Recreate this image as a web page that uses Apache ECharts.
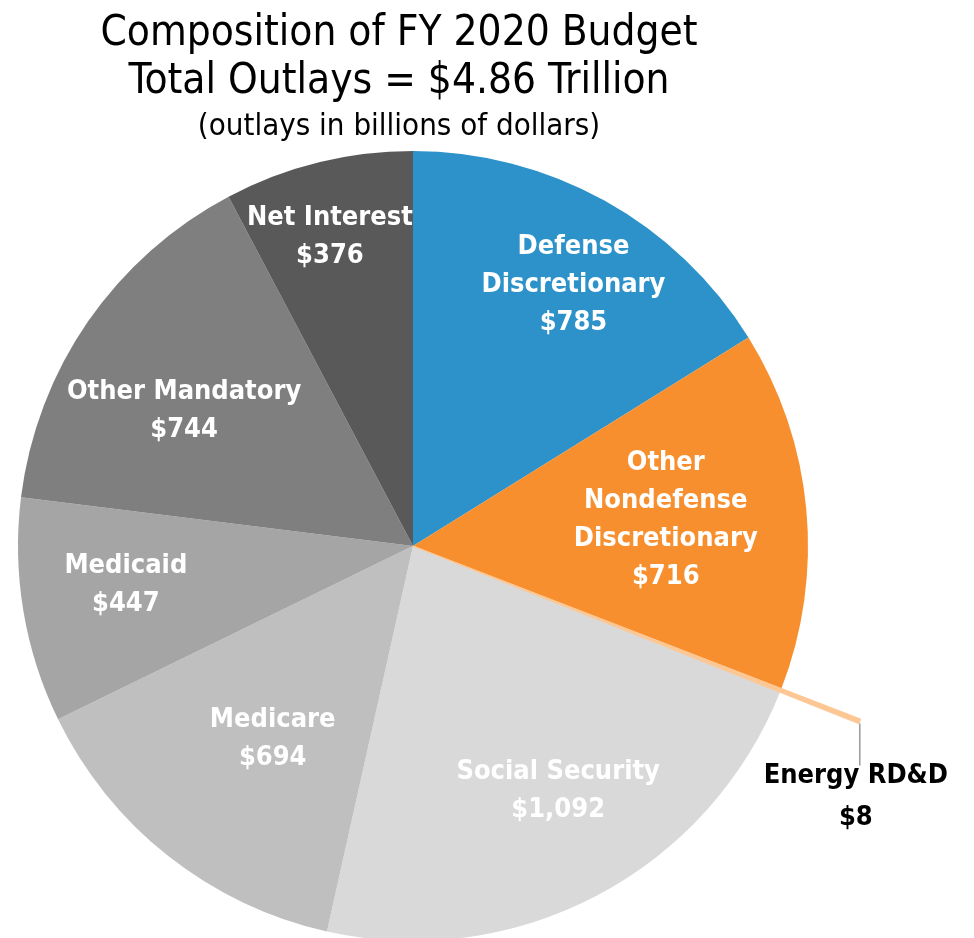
<!DOCTYPE html>
<html>
<head>
<meta charset="utf-8">
<script src="https://cdn.jsdelivr.net/npm/echarts@6/dist/echarts.min.js"></script>
<style>
  html, body { margin: 0; padding: 0; background: #ffffff; }
  #chart { width: 974px; height: 938px; }
</style>
</head>
<body>
<div id="chart"></div>
<script>
// FY 2020 outlays, billions of dollars, clockwise from 12 o'clock
const categories = [
  'Defense\nDiscretionary',
  'Other\nNondefense\nDiscretionary',
  'Energy RD&D',
  'Social Security',
  'Medicare',
  'Medicaid',
  'Other Mandatory',
  'Net Interest'
];
const outlays = [785, 716, 8, 1092, 694, 447, 744, 376];
const sliceColors = ['#2c92c9', '#f78f2e', '#fdc794', '#d9d9d9', '#bfbfbf', '#a5a5a5', '#7f7f7f', '#595959'];
// nudges for the in-slice labels
const labelNudges = [[23, -14], [-29, 0], [0, 0], [13, -5], [35, -29], [-8, -8], [4, 26], [-15, -34]];

const titleLines = [
  'Composition of FY 2020 Budget',
  'Total Outlays = $4.86 Trillion',
  '(outlays in billions of dollars)'
];

const FONT = "'Liberation Sans Narrow', 'DejaVu Sans Condensed', 'Roboto Condensed', sans-serif";
const CENTER = [413, 546];
const R = 395;
const ENERGY = 2;

function money(v) {
  return '$' + v.toLocaleString('en-US');
}

const chart = echarts.init(document.getElementById('chart'), null, { renderer: 'canvas' });

const baseData = categories.map((name, i) => ({
  name: name,
  value: outlays[i],
  itemStyle: { color: sliceColors[i] }
}));

const labelData = categories.map((name, i) => ({
  name: name,
  value: outlays[i],
  itemStyle: { color: 'rgba(0,0,0,0)' },
  label: { show: i !== ENERGY, offset: labelNudges[i] }
}));

const energyData = categories.map((name, i) => ({
  name: name,
  value: outlays[i],
  itemStyle: i === ENERGY
    ? { color: sliceColors[i], borderColor: sliceColors[i], borderWidth: 1 }
    : { color: 'rgba(0,0,0,0)', borderWidth: 0 },
  label: { show: i === ENERGY },
  labelLine: { show: i === ENERGY }
}));

chart.setOption({
  backgroundColor: '#ffffff',
  animation: false,
  title: [
    { text: titleLines[0], left: 394, top: 8, textAlign: 'center',
      textStyle: { fontFamily: FONT, fontWeight: 'normal', fontSize: 42, color: '#000' } },
    { text: titleLines[1], left: 394, top: 56, textAlign: 'center',
      textStyle: { fontFamily: FONT, fontWeight: 'normal', fontSize: 42, color: '#000' } },
    { text: titleLines[2], left: 394, top: 106, textAlign: 'center',
      textStyle: { fontFamily: FONT, fontWeight: 'normal', fontSize: 31, color: '#000' } }
  ],
  series: [
    {
      type: 'pie',
      center: CENTER,
      radius: [0, R],
      startAngle: 90,
      clockwise: true,
      silent: true,
      label: { show: false },
      labelLine: { show: false },
      itemStyle: { borderWidth: 0 },
      data: baseData
    },
    {
      // white labels sitting inside the wedges
      type: 'pie',
      center: CENTER,
      radius: [165, R],
      startAngle: 90,
      clockwise: true,
      silent: true,
      itemStyle: { borderWidth: 0 },
      label: {
        position: 'inside',
        formatter: p => p.name + '\n' + money(p.value),
        fontFamily: FONT,
        fontWeight: 'bold',
        fontSize: 27,
        lineHeight: 38,
        color: '#ffffff',
        align: 'center'
      },
      labelLine: { show: false },
      data: labelData
    },
    {
      // the thin Energy RD&D wedge reaching past the rim
      type: 'pie',
      center: CENTER,
      radius: [0, 480],
      startAngle: 90,
      clockwise: true,
      silent: true,
      label: {
        position: 'outside',
        alignTo: 'none',
        overflow: 'none',
        formatter: p => p.name + '\n' + money(p.value),
        fontFamily: FONT,
        fontWeight: 'bold',
        fontSize: 27,
        lineHeight: 42,
        color: '#000000',
        align: 'center'
      },
      labelLine: { show: true, length: 10, length2: 10, lineStyle: { color: '#9a9a9a', width: 1.5 } },
      labelLayout: function (params) {
        const pts = params.labelLinePoints;
        if (!pts || params.dataIndex !== ENERGY) return {};
        const tip = pts[0];
        const drop = 34;
        return {
          x: tip[0] - 4,
          y: tip[1] + drop,
          align: 'center',
          verticalAlign: 'top',
          labelLinePoints: [[tip[0], tip[1] + 2], [tip[0], tip[1] + drop + 10], [tip[0], tip[1] + drop + 10]]
        };
      },
      data: energyData
    }
  ]
});
</script>
</body>
</html>
